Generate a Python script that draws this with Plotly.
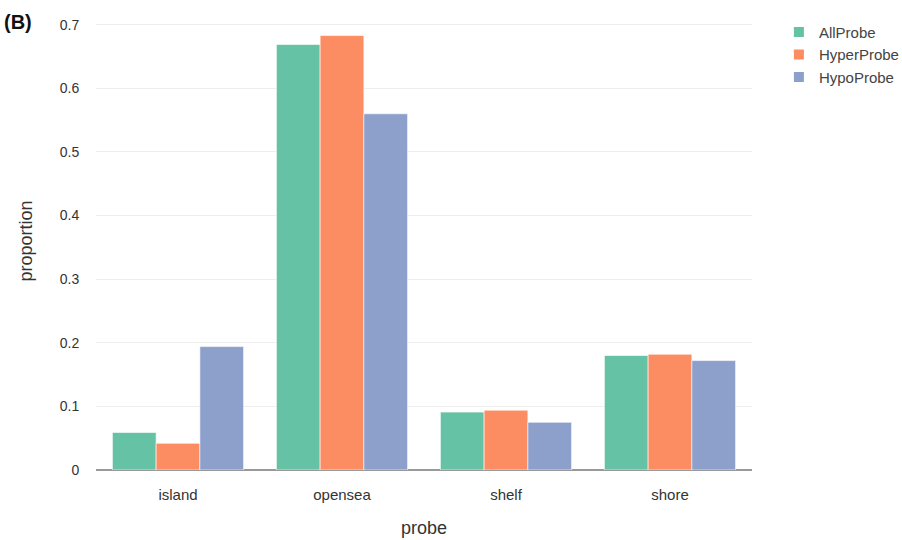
import plotly.graph_objects as go

categories = ["island", "opensea", "shelf", "shore"]
all_probe = [0.059, 0.669, 0.091, 0.180]
hyper_probe = [0.042, 0.683, 0.094, 0.182]
hypo_probe = [0.194, 0.560, 0.075, 0.172]

series = [
    ("AllProbe", all_probe, "#66c2a5"),
    ("HyperProbe", hyper_probe, "#fc8d62"),
    ("HypoProbe", hypo_probe, "#8da0cb"),
]

font_family = "Liberation Sans, Arial, sans-serif"

fig = go.Figure()
for name, vals, color in series:
    fig.add_trace(go.Bar(
        x=categories, y=vals, name=name,
        marker=dict(color=color, line=dict(color="white", width=0.6)),
    ))

fig.update_layout(
    width=902, height=540,
    margin=dict(l=96, r=150, t=12, b=70, autoexpand=False),
    paper_bgcolor="white", plot_bgcolor="white",
    barmode="group", bargap=0.2, bargroupgap=0,
    font=dict(family=font_family, size=14, color="#333"),
    legend=dict(
        x=1.041, xanchor="left", xref="paper", y=0.992, yanchor="top",
        font=dict(size=15, color="#444"),
        itemsizing="constant",
        bgcolor="rgba(0,0,0,0)",
    ),
    xaxis=dict(
        title=dict(text="probe", font=dict(size=18, color="#333"), standoff=19),
        showgrid=False, showline=False,
        ticks="outside", ticklen=11, tickcolor="rgba(0,0,0,0)",
        tickfont=dict(size=15, color="#333"),
    ),
    yaxis=dict(
        title=dict(text="proportion", font=dict(size=18, color="#333"), standoff=22),
        range=[0, 0.72], dtick=0.1, tickformat="~g",
        showgrid=True, gridcolor="#eeeeee", gridwidth=1,
        zeroline=True, zerolinecolor="#999999", zerolinewidth=2,
        showline=False,
        ticks="outside", ticklen=13, tickcolor="rgba(0,0,0,0)",
        tickfont=dict(size=14, color="#333"),
    ),
    annotations=[dict(
        text="<b>(B)</b>", xref="paper", yref="paper",
        x=-0.143, y=0.979, xanchor="left", yanchor="middle",
        showarrow=False, font=dict(size=20, color="#111"),
    )],
)

fig.write_html("out.html")
